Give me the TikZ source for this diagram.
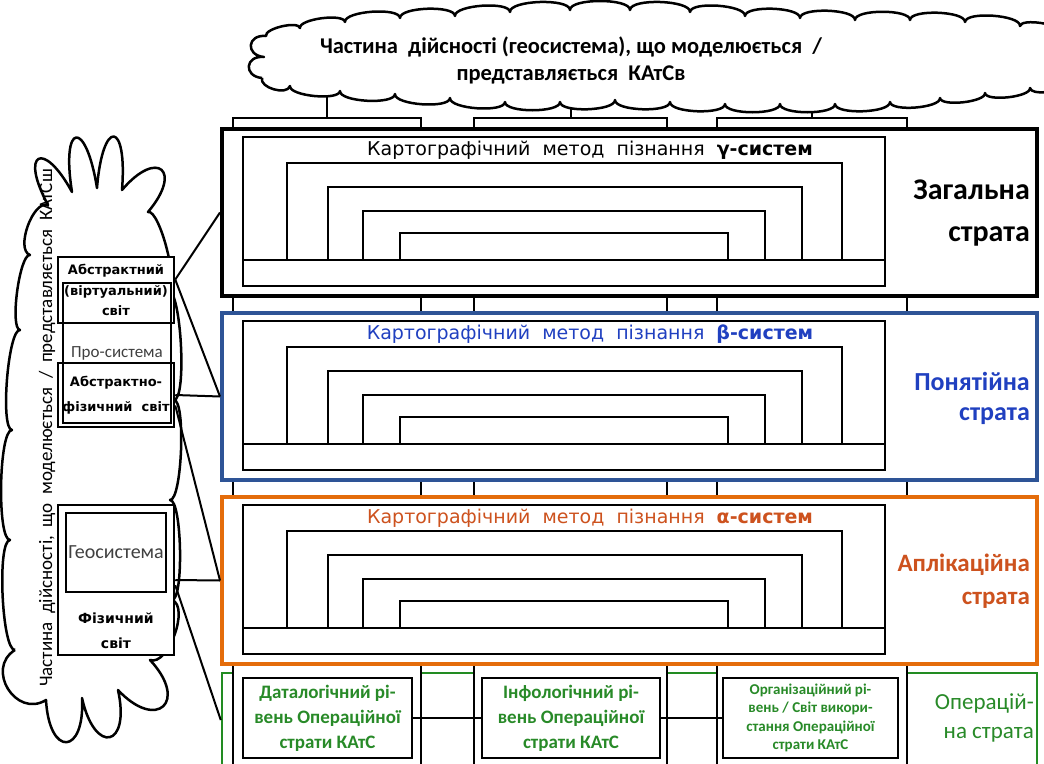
\documentclass[tikz,border=0pt]{standalone}
\usepackage{fontspec}
\setmainfont{Carlito}
\newfontfamily\verd{DejaVu Sans}
\usepackage{tikz}
\usetikzlibrary{shapes,positioning,calc}

\definecolor{frBlue}{RGB}{46,84,150}
\definecolor{txBlue}{RGB}{32,64,192}
\definecolor{frOrange}{RGB}{228,108,10}
\definecolor{txOrange}{RGB}{205,82,30}
\definecolor{frGreen}{RGB}{34,140,34}
\definecolor{txGreen}{RGB}{40,138,40}

\tikzset{
	stratum/.style = {draw, fill=white, line width=4pt, minimum width=815, minimum height=167, inner sep=0pt},
	column/.style = {draw, fill=white, line width=1.8pt, minimum width=#1, minimum height=682, inner sep=0pt},
	inner/.style = {line width=2pt},
	worldbox/.style = {draw, fill=white, line width=2.5pt, minimum width=116, inner sep=0pt, align=center, font=\verd\bfseries\fontsize{13}{20.5}\selectfont},
	levelbox/.style = {draw, fill=white, line width=2.5pt, minimum height=80, inner sep=2pt, align=center, text=txGreen, font=\bfseries\fontsize{19}{25}\selectfont},
	cloudline/.style = {draw, fill=white, line width=2.5pt, line join=round},
	bump/.style = {to path={.. controls ($(\tikztostart)!#1!90:(\tikztotarget)$) and ($(\tikztotarget)!#1!-90:(\tikztostart)$) .. (\tikztotarget)}},
	link/.style = {line width=2pt}
}

\begin{document}
\begin{tikzpicture}[x=1pt, y=-1pt]
	\useasboundingbox (0,0) rectangle (1044,763);
	\clip (0,0) rectangle (1044,763);

	% operational stratum, partly hidden by the columns
	\node[draw=frGreen, line width=2.5pt, minimum width=815, minimum height=94, inner sep=0pt] (operS) at (629.5,720) {};

	% three columns through all the strata
	\node[column=188] (colA) at (327,459) {};
	\node[column=193] (colB) at (570.5,459) {};
	\node[column=190] (colC) at (812,459) {};

	% strata with the nested method blocks
	\foreach \sname/\ty/\fr/\tc/\gr in {genS/129/black/black/γ, conS/313/frBlue/txBlue/β, appS/497/frOrange/txOrange/α}{
		\node[stratum, draw=\fr] (\sname) at (629.5,\ty+83.5) {};
		\draw[inner] (243,\ty+8) rectangle (885,\ty+157);
		\draw[inner] (243,\ty+130.5) -- (885,\ty+130.5);
		\foreach \xl/\xr/\yt in {287/842/34, 328/802/58, 363/765/82, 400/728/104}
			\draw[inner] (\xl,\ty+130.5) |- (\xr,\ty+\yt) -- (\xr,\ty+130.5);
		\node[font=\verd\fontsize{19}{22}\selectfont, text=\tc] (\sname-title) at (590,\ty+21) {Картографічний\ \ метод\ \ пізнання\ \ \textbf{\gr-систем}};
	}

	\node[anchor=east, inner sep=0pt, align=right, font=\bfseries\fontsize{30}{42}\selectfont] (genL) at (1030,213) {Загальна\\страта};
	\node[anchor=east, inner sep=0pt, align=right, text=txBlue, font=\bfseries\fontsize{26}{30}\selectfont] (conL) at (1030,398) {Понятійна\\страта};
	\node[anchor=east, inner sep=0pt, align=right, text=txOrange, font=\bfseries\fontsize{25}{33}\selectfont] (appL) at (1030,581) {Аплікаційна\\страта};
	\node[anchor=east, inner sep=0pt, align=right, text=txGreen, font=\fontsize{23}{29}\selectfont] (operL) at (1034,718) {Операцій-\\на страта};

	% levels of the operational stratum
	\node[levelbox, minimum width=169] (dataB) at (327.5,718) {Даталогічний рі-\\вень Операційної\\страти КАтС};
	\node[levelbox, minimum width=178] (infoB) at (571,718) {Інфологічний рі-\\вень Операційної\\страти КАтС};
	\node[levelbox, minimum width=175, font=\bfseries\fontsize{15}{18.5}\selectfont] (orgB) at (810.5,718) {Організаційний рі-\\вень / Світ викори-\\стання Операційної\\страти КАтС};
	\draw[link] (dataB) -- (infoB);
	\draw[link] (infoB) -- (orgB);

	% top cloud
	\coordinate (tcloudC) at (571,60);
	\draw[link] (colA.north) -- (colA.north |- tcloudC);
	\draw[link] (colB.north) -- (colB.north |- tcloudC);
	\draw[link] (colC.north) -- (colC.north |- tcloudC);
	\path[cloudline] (262,78) foreach \cx/\cy/\cb in {264/57/0.9, 266/36/0.9,
			300/28/0.22, 345/22/0.2, 400/18/0.2, 455/16/0.2, 510/12/0.2, 570/10/0.2, 630/10/0.2, 690/12/0.2,
			745/16/0.2, 800/18/0.2, 855/20/0.2, 910/20/0.2, 965/22/0.2, 1020/26/0.2, 1060/32/0.2, 1060/85/0.2,
			1030/88/0.25, 985/93/0.2, 940/98/0.2, 890/102/0.2, 835/104/0.2, 780/104/0.2, 725/104/0.2, 670/102/0.2,
			615/100/0.2, 560/102/0.2, 505/102/0.2, 450/98/0.2, 395/94/0.2, 340/91/0.2, 290/86/0.2, 262/78/0.35}
		{to[bump=\cb] (\cx,\cy)};
	\node[font=\bfseries\fontsize{22.5}{27}\selectfont, align=center] (tcloudT) at (tcloudC) {Частина\ \ дійсності (геосистема), що моделюється\ \ /\\представляється\ \ КАтСв};

	% left cloud with the worlds
	\path[cloudline] (15,650) foreach \cx/\cy/\cb in {10/540/0.12, 12/430/0.12, 20/330/0.12, 30/255/0.14, 48/205/0.3,
			72/192/2.2, 97/188/2.8, 122/190/2.8, 148/212/1.6,
			168/290/0.15, 174/400/0.12, 170/500/0.12, 172/600/0.12, 150/660/0.3,
			118/690/1.3, 82/698/1.6, 46/700/1.6, 15/650/0.6}
		{to[bump=\cb] (\cx,\cy)};
	\node[rotate=90, font=\fontsize{19}{23}\selectfont] (lcloudT) at (47,428) {Частина\ \ дійсності,\ \ що\ \ моделюється\ \ /\ \ представляється\ \ КАтСш};

	\node[worldbox, minimum height=66] (absW) at (116,290) {Абстрактний\\(віртуальний)\\світ};
	\node[worldbox, minimum height=64, font=\verd\bfseries\fontsize{13}{25}\selectfont] (apW) at (116,395) {Абстрактно-\\фізичний\ \ світ};
	\node[worldbox, minimum height=150] (physW) at (116,580) {};
	\node[draw, line width=1.2pt, minimum width=108, minimum height=140, inner sep=0pt, text=darkgray, font=\fontsize{17}{18}\selectfont] (proS) at (117,353) {Про-система};
	\node[draw, line width=1.2pt, minimum width=100, minimum height=79, inner sep=0pt, text=darkgray, font=\fontsize{20}{22}\selectfont] (geoS) at (116,552.5) {Геосистема};
	\node[font=\verd\bfseries\fontsize{14}{25}\selectfont, align=center] (physT) at (116,630.5) {Фізичний\\світ};

	% worlds to strata
	\draw[link] (absW.10) -- (genS.west);
	\draw[link] (absW.10) -- (conS.west);
	\draw[link] (apW.east) -- (conS.west);
	\draw[link] (apW.-10) -- (appS.west);
	\draw[link] (physW.east) -- (appS.west);
	\draw[link] (physW.-5) -- (operS.west);
\end{tikzpicture}
\end{document}
